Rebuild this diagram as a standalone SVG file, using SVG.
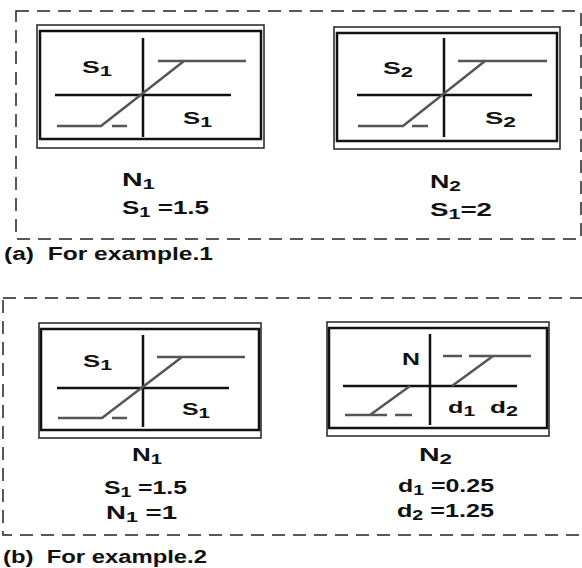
<svg xmlns="http://www.w3.org/2000/svg" width="582" height="568" viewBox="0 0 582 568">
<style>
.panel{fill:none;stroke:#222;stroke-width:1.5;stroke-dasharray:13 8}
.outer{fill:#fff;stroke:#222;stroke-width:1.5}
.inner{fill:none;stroke:#111;stroke-width:2.5}
.axis{stroke:#111;stroke-width:2.5;fill:none}
.curve{stroke:#555;stroke-width:2.5;fill:none}
text{font-family:"Liberation Sans",Arial,sans-serif;font-weight:bold;fill:#111}
.in{font-size:17px}
.lbl{font-size:18px}
.cap{font-size:18px}
.sub{font-size:14px}
</style>
<rect class="panel" x="16" y="11" width="565" height="228"/>
<text class="cap" x="4" y="260" textLength="209" lengthAdjust="spacingAndGlyphs">(a)&#160; For example.1</text>
<rect class="panel" x="3" y="298" width="600" height="237"/>
<text class="cap" x="3" y="563" textLength="204" lengthAdjust="spacingAndGlyphs">(b)&#160; For example.2</text>

<g id="a-n1">
<rect class="outer" x="37" y="25" width="227" height="123"/>
<rect class="inner" x="40" y="31" width="221" height="108"/>
<line class="axis" x1="143" y1="38" x2="143" y2="137"/>
<line class="axis" x1="55" y1="95" x2="231" y2="95"/>
<polyline class="curve" points="57,126 101,126 184,61 246,61"/>
<line class="curve" x1="158" y1="61" x2="184" y2="61"/>
<line class="curve" x1="112" y1="126" x2="127" y2="126"/>
<text class="in" x="82" y="73" textLength="30" lengthAdjust="spacingAndGlyphs">S<tspan class="sub" dy="3">1</tspan></text>
<text class="in" x="183" y="124" textLength="29" lengthAdjust="spacingAndGlyphs">S<tspan class="sub" dy="3">1</tspan></text>
<text class="lbl" x="122" y="186" textLength="33" lengthAdjust="spacingAndGlyphs">N<tspan class="sub" dy="3">1</tspan></text>
<text class="lbl" x="122" y="214" textLength="87" lengthAdjust="spacingAndGlyphs">S<tspan class="sub" dy="3">1</tspan><tspan dy="-3"> =1.5</tspan></text>
</g>

<g id="a-n2">
<rect class="outer" x="334" y="27" width="226" height="122"/>
<rect class="inner" x="337" y="33" width="220" height="108"/>
<line class="axis" x1="444" y1="38" x2="444" y2="137"/>
<line class="axis" x1="357" y1="95" x2="532" y2="95"/>
<polyline class="curve" points="358,126 403,126 485,61 547,61"/>
<line class="curve" x1="458" y1="61" x2="485" y2="61"/>
<line class="curve" x1="412" y1="126" x2="428" y2="126"/>
<text class="in" x="383" y="74" textLength="30" lengthAdjust="spacingAndGlyphs">S<tspan class="sub" dy="3">2</tspan></text>
<text class="in" x="485" y="124" textLength="31" lengthAdjust="spacingAndGlyphs">S<tspan class="sub" dy="3">2</tspan></text>
<text class="lbl" x="430" y="188" textLength="31" lengthAdjust="spacingAndGlyphs">N<tspan class="sub" dy="3">2</tspan></text>
<text class="lbl" x="430" y="216" textLength="62" lengthAdjust="spacingAndGlyphs">S<tspan class="sub" dy="3">1</tspan><tspan dy="-3">=2</tspan></text>
</g>

<g id="b-n1">
<rect class="outer" x="39" y="323" width="222" height="115"/>
<rect class="inner" x="41" y="329" width="218" height="101"/>
<line class="axis" x1="143" y1="335" x2="143" y2="427"/>
<line class="axis" x1="57" y1="388" x2="229" y2="388"/>
<polyline class="curve" points="58,418 102,418 182,357 245,357"/>
<line class="curve" x1="157" y1="357" x2="182" y2="357"/>
<line class="curve" x1="112" y1="418" x2="127" y2="418"/>
<text class="in" x="83" y="367" textLength="29" lengthAdjust="spacingAndGlyphs">S<tspan class="sub" dy="3">1</tspan></text>
<text class="in" x="182" y="415" textLength="28" lengthAdjust="spacingAndGlyphs">S<tspan class="sub" dy="3">1</tspan></text>
<text class="lbl" x="132" y="461" textLength="30" lengthAdjust="spacingAndGlyphs">N<tspan class="sub" dy="3">1</tspan></text>
<text class="lbl" x="104" y="494" textLength="83" lengthAdjust="spacingAndGlyphs">S<tspan class="sub" dy="3">1</tspan><tspan dy="-3"> =1.5</tspan></text>
<text class="lbl" x="106" y="519" textLength="71" lengthAdjust="spacingAndGlyphs">N<tspan class="sub" dy="3">1</tspan><tspan dy="-3"> =1</tspan></text>
</g>

<g id="b-n2">
<rect class="outer" x="327" y="322" width="222" height="114"/>
<rect class="inner" x="329" y="328" width="218" height="100"/>
<line class="axis" x1="430" y1="334" x2="430" y2="425"/>
<line class="axis" x1="343" y1="386" x2="517" y2="386"/>
<line class="curve" x1="443" y1="356" x2="462" y2="356"/>
<line class="curve" x1="469" y1="356" x2="531" y2="356"/>
<line class="curve" x1="452" y1="386" x2="493" y2="356"/>
<line class="curve" x1="410" y1="386" x2="370" y2="415"/>
<line class="curve" x1="345" y1="415" x2="387" y2="415"/>
<line class="curve" x1="395" y1="415" x2="412" y2="415"/>
<text class="in" x="402" y="365" textLength="18" lengthAdjust="spacingAndGlyphs">N</text>
<text class="in" x="448" y="413" textLength="27" lengthAdjust="spacingAndGlyphs">d<tspan class="sub" dy="3">1</tspan></text>
<text class="in" x="490" y="413" textLength="28" lengthAdjust="spacingAndGlyphs">d<tspan class="sub" dy="3">2</tspan></text>
<text class="lbl" x="419" y="461" textLength="33" lengthAdjust="spacingAndGlyphs">N<tspan class="sub" dy="3">2</tspan></text>
<text class="lbl" x="398" y="492" textLength="96" lengthAdjust="spacingAndGlyphs">d<tspan class="sub" dy="3">1</tspan><tspan dy="-3"> =0.25</tspan></text>
<text class="lbl" x="397" y="517" textLength="97" lengthAdjust="spacingAndGlyphs">d<tspan class="sub" dy="3">2</tspan><tspan dy="-3"> =1.25</tspan></text>
</g>
</svg>
